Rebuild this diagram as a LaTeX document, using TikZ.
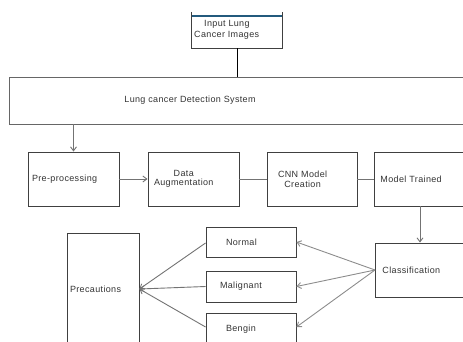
\documentclass[tikz,border=0pt]{standalone}
\usepackage{fontspec}
\setmainfont{Liberation Sans}[LetterSpace=4]
\usetikzlibrary{arrows.meta}
\definecolor{topblue}{RGB}{35,90,125}
\begin{document}
\begin{tikzpicture}[x=1pt,y=-1pt,
  font=\fontsize{9}{10.5}\selectfont,
  boxst/.style={draw=black!75, line width=0.9pt, rectangle, inner sep=0pt, text=black!80},
  conn/.style={draw=black!55, line width=0.9pt},
  arr/.style={conn, -{Straight Barb[length=4pt,width=6pt]}},
  lightarr/.style={draw=black!45, line width=0.9pt, -{Straight Barb[length=4pt,width=6pt]}}
]
\useasboundingbox (0,0) rectangle (463,342);
\clip (0,0) rectangle (463,342);
% top input box
\node[inner sep=0pt, minimum width=90pt, minimum height=36pt] (in) at (237,30) {};
\node[text=black!80, align=left, anchor=north west, inner sep=0pt] (intext) at (194,20.5) {\hspace*{10pt}Input Lung\\Cancer Images};
\draw[draw=black!75, line width=0.9pt] (in.north west) -- (in.south west) -- (in.south east) -- (in.north east);
\coordinate (blA) at (192,16);
\coordinate (blB) at (282,16);
\draw[topblue, line width=1.2pt] (blA) -- (blB);
% system box
\node[boxst, draw=black!60, minimum width=480pt, minimum height=47pt] (sys) at (249,100.5) {};
\node[text=black!80, inner sep=0pt] (systext) at (190,100) {Lung cancer Detection System};
% row of steps
\node[boxst, minimum width=91pt, minimum height=54pt, text width=83pt, align=left, inner xsep=4pt] (pre) at (73.5,179) {Pre-processing};
\node[boxst, minimum width=91pt, minimum height=54pt, text width=79pt, align=left, inner xsep=6pt] (aug) at (193.5,179) {\shortstack{Data\\Augmentation}};
\node[boxst, minimum width=90pt, minimum height=54pt, text width=68pt, align=left, inner xsep=11pt] (cnn) at (312,179) {\shortstack{CNN Model\\Creation}};
\node[boxst, anchor=west, minimum width=110pt, minimum height=54pt, text width=98pt, align=left, inner xsep=6pt] (mt) at (374,179) {Model Trained};
% classification
\node[boxst, anchor=west, minimum width=110pt, minimum height=54pt, text width=96pt, align=left, inner xsep=7pt] (cls) at (375,270) {Classification};
% outcomes
\node[boxst, minimum width=90pt, minimum height=30pt, text width=50pt, align=left, inner xsep=20pt] (nor) at (251,242) {Normal};
\node[boxst, minimum width=90pt, minimum height=31pt, text width=62pt, align=left, inner xsep=14pt] (mal) at (251,286.5) {Malignant};
\node[boxst, minimum width=90pt, minimum height=32pt, text width=50pt, align=left, inner xsep=20pt] (ben) at (251,329) {Bengin};
\node[boxst, minimum width=72pt, minimum height=112pt, text width=66pt, align=left, inner xsep=3pt] (pre2) at (103,289) {Precautions};
% connectors
\draw[draw=black, line width=0.9pt] (in.south) -- (in.south |- sys.north);
\draw[arr] (sys.south -| pre.north) -- (pre.north);
\draw[arr] (pre.east) -- (aug.west);
\draw[conn] (aug.east) -- (cnn.west);
\draw[conn] (cnn.east) -- (mt.west);
\draw[arr] ([xshift=46pt]mt.south west) -- ([xshift=45pt]cls.north west);
\draw[lightarr] (cls.west) -- (nor.east);
\draw[lightarr] (cls.west) -- (mal.east);
\draw[lightarr] (cls.west) -- ([yshift=2pt]ben.east);
\draw[arr] ([yshift=-1pt]nor.west) -- (pre2.east);
\draw[arr] (mal.west) -- (pre2.east);
\draw[arr] ([yshift=2pt]ben.west) -- (pre2.east);
\end{tikzpicture}
\end{document}
